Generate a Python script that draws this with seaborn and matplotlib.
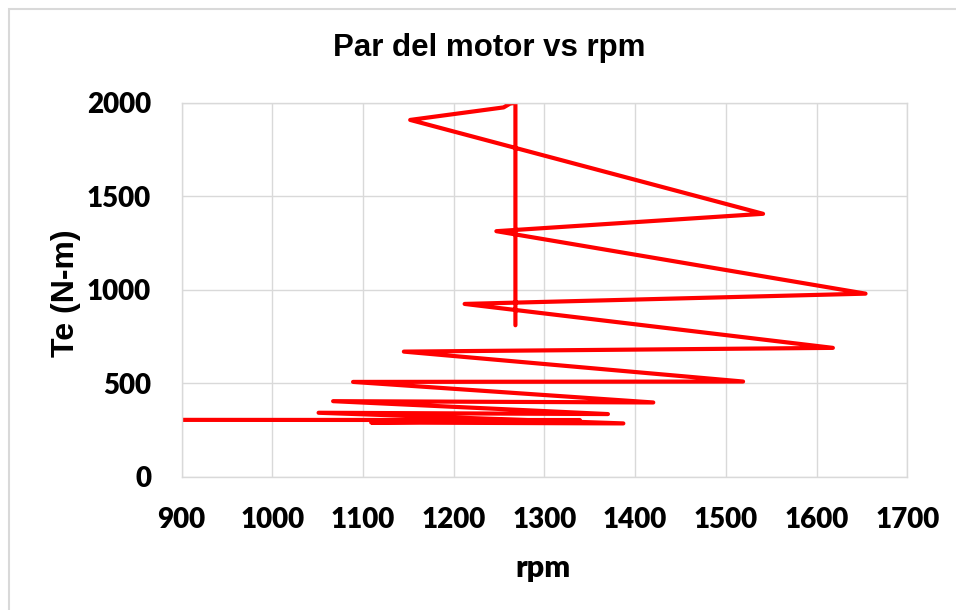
import matplotlib
matplotlib.use("Agg")
import matplotlib.pyplot as plt
import matplotlib.patches as patches
import pandas as pd
import seaborn as sns

# values (time order of the trace)
rpm = [0, 1339, 1109, 1387, 1051, 1370, 1067, 1420, 1089, 1519,
       1145, 1618, 1212, 1654, 1247, 1541, 1152, 1255, 1262, 1268, 1268]
te = [306, 303, 290, 285, 342, 335, 404, 397, 507, 509,
      669, 689, 924, 979, 1313, 1406, 1908, 1975, 1995, 2000, 810]

x_ticks = [900, 1000, 1100, 1200, 1300, 1400, 1500, 1600, 1700]
y_ticks = [0, 500, 1000, 1500, 2000]

df = pd.DataFrame({"rpm": rpm, "Te": te})

sns.set_theme(style="white")
plt.rcParams["text.color"] = "black"
plt.rcParams["xtick.color"] = "black"
plt.rcParams["ytick.color"] = "black"
plt.rcParams["axes.labelcolor"] = "black"

fig = plt.figure(figsize=(9.56, 6.10), dpi=100)
ax = fig.add_axes([0.190, 0.2185, 0.759, 0.6131])

sns.lineplot(data=df, x="rpm", y="Te", sort=False, estimator=None,
             color="#FF0000", linewidth=3.0, ax=ax,
             solid_capstyle="round", solid_joinstyle="round")

ax.set_xlim(900, 1700)
ax.set_ylim(0, 2000)
ax.set_xticks(x_ticks)
ax.set_yticks(y_ticks)
ax.grid(True, color="#D9D9D9", linewidth=1.0)
ax.set_axisbelow(True)
for s in ax.spines.values():
    s.set_color("#D9D9D9")
    s.set_linewidth(1.0)
ax.tick_params(length=0, pad=22)

for lab in ax.get_xticklabels() + ax.get_yticklabels():
    lab.set_fontfamily("Lato")
    lab.set_fontweight("heavy")
    lab.set_fontsize(20)

ax.set_xlabel("rpm", fontfamily="Lato", fontweight="heavy", fontsize=22)
ax.xaxis.set_label_coords(0.498, -0.244)
ax.set_ylabel("Te (N-m)", fontfamily="Liberation Sans", fontweight="bold", fontsize=23)
ax.yaxis.set_label_coords(-0.1595, 0.49)
for lbl in (ax.xaxis.label, ax.yaxis.label):
    lbl.set_verticalalignment("center")

ax.text(0.4236, 1.146, "Par del motor vs rpm", transform=ax.transAxes,
        ha="center", va="center", fontfamily="Liberation Sans",
        fontweight="bold", fontsize=22.5)

# chart area border, as in the spreadsheet export
fig.patches.append(patches.Rectangle((9 / 956, -0.5), 2.0, 0.985 + 0.5,
                                     transform=fig.transFigure, fill=False,
                                     edgecolor="#D9D9D9", linewidth=1.5))

fig.savefig("out.png", dpi=100)
